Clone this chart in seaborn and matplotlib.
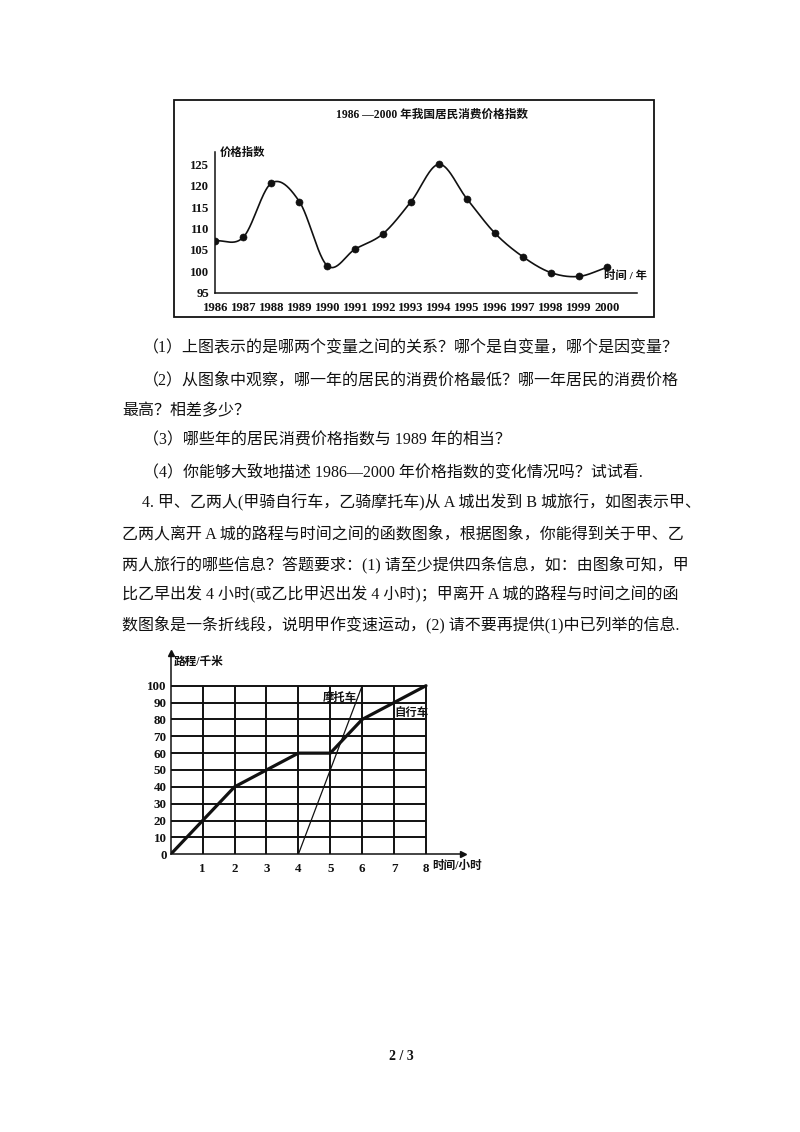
import numpy as np
import pandas as pd
import matplotlib
matplotlib.use("Agg")
import matplotlib.pyplot as plt
from matplotlib.patches import Rectangle
import seaborn as sns

# ---------------- data ----------------
years = [1986, 1987, 1988, 1989, 1990, 1991, 1992, 1993, 1994, 1995, 1996, 1997, 1998, 1999, 2000]
cpi = [107.1, 108.0, 120.6, 116.3, 101.3, 105.2, 108.8, 116.3, 125.0, 116.9, 108.9, 103.4, 99.7, 98.8, 100.9]
cpi_yticks = [95, 100, 105, 110, 115, 120, 125]

bike_t = [0, 1, 2, 3, 4, 5, 6, 7, 8]
bike_d = [0, 20, 40, 50, 60, 60, 80, 90, 100]
moto_t = [4, 5, 6]
moto_d = [0, 50, 100]
grid_t = [1, 2, 3, 4, 5, 6, 7, 8]
grid_d = [10, 20, 30, 40, 50, 60, 70, 80, 90, 100]
dist_yticks = [0, 10, 20, 30, 40, 50, 60, 70, 80, 90, 100]

text_lines = [
    "（1）上图表示的是哪两个变量之间的关系？哪个是自变量，哪个是因变量？",
    "（2）从图象中观察，哪一年的居民的消费价格最低？哪一年居民的消费价格",
    "最高？相差多少？",
    "（3）哪些年的居民消费价格指数与 1989 年的相当？",
    "（4）你能够大致地描述 1986—2000 年价格指数的变化情况吗？试试看.",
    "4. 甲、乙两人(甲骑自行车，乙骑摩托车)从 A 城出发到 B 城旅行，如图表示甲、",
    "乙两人离开 A 城的路程与时间之间的函数图象，根据图象，你能得到关于甲、乙",
    "两人旅行的哪些信息？答题要求：(1) 请至少提供四条信息，如：由图象可知，甲",
    "比乙早出发 4 小时(或乙比甲迟出发 4 小时)；甲离开 A 城的路程与时间之间的函",
    "数图象是一条折线段，说明甲作变速运动，(2) 请不要再提供(1)中已列举的信息.",
]
text_x = [143, 143, 122, 143, 143, 142, 122, 122, 122, 122]
text_y = [348, 380, 411, 440, 472, 503, 534, 565, 595, 625]

# ---------------- style ----------------
sns.set_style("white")
FAM = ["Liberation Serif", "Noto Sans CJK SC", "DejaVu Sans"]
plt.rcParams["font.family"] = FAM
INK = "#111111"

W, H = 800, 1132
fig = plt.figure(figsize=(W / 100, H / 100), dpi=100)
fig.patch.set_facecolor("white")


def rect(l, t, r, b):
    return [l / W, 1 - b / H, (r - l) / W, (b - t) / H]


def ftext(x, y, s, **kw):
    return fig.text(x / W, 1 - y / H, s, **kw)


def catmull_rom(x, y, per=40):
    x = np.asarray(x, float)
    y = np.asarray(y, float)
    m = len(x)
    tan = np.zeros(m)
    tan[1:-1] = (y[2:] - y[:-2]) / (x[2:] - x[:-2])
    tan[0] = (y[1] - y[0]) / (x[1] - x[0])
    tan[-1] = (y[-1] - y[-2]) / (x[-1] - x[-2])
    xs_all, ys_all = [], []
    for i in range(m - 1):
        h = x[i + 1] - x[i]
        t = np.linspace(0, 1, per, endpoint=(i == m - 2))
        h00 = 2 * t ** 3 - 3 * t ** 2 + 1
        h10 = t ** 3 - 2 * t ** 2 + t
        h01 = -2 * t ** 3 + 3 * t ** 2
        h11 = t ** 3 - t ** 2
        xs_all.append(x[i] + t * h)
        ys_all.append(h00 * y[i] + h10 * h * tan[i] + h01 * y[i + 1] + h11 * h * tan[i + 1])
    return np.concatenate(xs_all), np.concatenate(ys_all)


# ---------------- chart 1 ----------------
fig.patches.append(Rectangle((174 / W, 1 - 317 / H), (654 - 174) / W, (317 - 100) / H,
                             transform=fig.transFigure, fill=False, lw=1.3, ec=INK))

ax1 = fig.add_axes(rect(215.5, 152, 637, 292.7))
ax1.set_facecolor("none")
px_per_year = (606.7 - 215.5) / (years[-1] - years[0])
ax1.set_xlim(years[0], years[0] + (637 - 215.5) / px_per_year)
ax1.set_ylim(95, 95 + (292.7 - 152) / ((292.7 - 164.3) / 30))

sx, sy = catmull_rom(years, cpi)
curve = pd.DataFrame({"year": sx, "cpi": sy})
pts = pd.DataFrame({"year": years, "cpi": cpi})
sns.lineplot(data=curve, x="year", y="cpi", ax=ax1, color=INK, lw=1.2, sort=False)
sns.scatterplot(data=pts, x="year", y="cpi", ax=ax1, color=INK, s=26, edgecolor=INK, zorder=5)

for s in ["top", "right"]:
    ax1.spines[s].set_visible(False)
for s in ["left", "bottom"]:
    ax1.spines[s].set_linewidth(1.1)
    ax1.spines[s].set_color(INK)
ax1.set_xticks(years)
ax1.set_xticklabels([str(y) for y in years])
ax1.set_yticks(cpi_yticks)
ax1.set_yticklabels([str(v) for v in cpi_yticks])
ax1.tick_params(axis="both", direction="in", length=3.5, width=0.8, colors=INK,
                labelsize=9.2)
ax1.tick_params(axis="x", pad=6.5)
ax1.tick_params(axis="y", pad=4.5)
for lab in ax1.get_xticklabels() + ax1.get_yticklabels():
    lab.set_fontweight("bold")
ax1.set_xlabel("")
ax1.set_ylabel("")
ax1.grid(False)

ftext(432, 115, "1986 —2000 年我国居民消费价格指数", ha="center", va="center",
      fontsize=8.4, fontweight="bold", color=INK)
ftext(220, 152, "价格指数", ha="left", va="center", fontsize=8.2, fontweight="bold", color=INK)
ftext(604, 275, "时间 / 年", ha="left", va="center", fontsize=8.2, fontweight="bold", color=INK)

# ---------------- body text ----------------
for s, x, y in zip(text_lines, text_x, text_y):
    ftext(x, y, s, ha="left", va="center", fontsize=11.5, color=INK)

# ---------------- chart 2 ----------------
ax2 = fig.add_axes(rect(170.7, 653, 463, 854.3))
ax2.set_facecolor("none")
px_per_h = (426 - 170.7) / 8
px_per_km = (854.3 - 685.7) / 100
ax2.set_xlim(0, (463 - 170.7) / px_per_h)
ax2.set_ylim(0, (854.3 - 653) / px_per_km)

ax2.vlines(grid_t, 0, max(grid_d), colors=INK, lw=1.4, zorder=1)
ax2.hlines(grid_d, 0, max(grid_t), colors=INK, lw=1.4, zorder=1)

bike = pd.DataFrame({"t": bike_t, "d": bike_d})
moto = pd.DataFrame({"t": moto_t, "d": moto_d})
sns.lineplot(data=bike, x="t", y="d", ax=ax2, color=INK, lw=2.3, zorder=3)
sns.lineplot(data=moto, x="t", y="d", ax=ax2, color=INK, lw=0.9, zorder=3)

for s in ["top", "right"]:
    ax2.spines[s].set_visible(False)
for s in ["left", "bottom"]:
    ax2.spines[s].set_linewidth(1.1)
    ax2.spines[s].set_color(INK)
ax2.plot(1, 0, ">", transform=ax2.transAxes, clip_on=False, color=INK, ms=4.5)
ax2.plot(0, 1, "^", transform=ax2.transAxes, clip_on=False, color=INK, ms=4.5)

ax2.set_xticks(grid_t)
ax2.set_xticklabels([str(t) for t in grid_t])
ax2.set_yticks(dist_yticks)
ax2.set_yticklabels([str(v) for v in dist_yticks])
ax2.tick_params(axis="both", length=0, colors=INK, labelsize=9.4)
ax2.tick_params(axis="x", pad=6)
ax2.tick_params(axis="y", pad=3)
for lab in ax2.get_xticklabels() + ax2.get_yticklabels():
    lab.set_fontweight("bold")
ax2.set_xlabel("")
ax2.set_ylabel("")
ax2.grid(False)

ax2.text(5.31, 93.3, "摩托车", ha="center", va="center", fontsize=8.2,
         fontweight="bold", color=INK, zorder=4)
ax2.text(7.53, 83.8, "自行车", ha="center", va="center", fontsize=8.2,
         fontweight="bold", color=INK, zorder=4)
ftext(174, 662, "路程/千米", ha="left", va="center", fontsize=8.4, fontweight="bold", color=INK)
ftext(432.5, 866, "时间/小时", ha="left", va="center", fontsize=8.4, fontweight="bold", color=INK)

# ---------------- page number ----------------
ftext(401, 1057, "2 / 3", ha="center", va="center", fontsize=10, fontweight="bold", color=INK)

fig.savefig("out.png", dpi=100, facecolor="white")
